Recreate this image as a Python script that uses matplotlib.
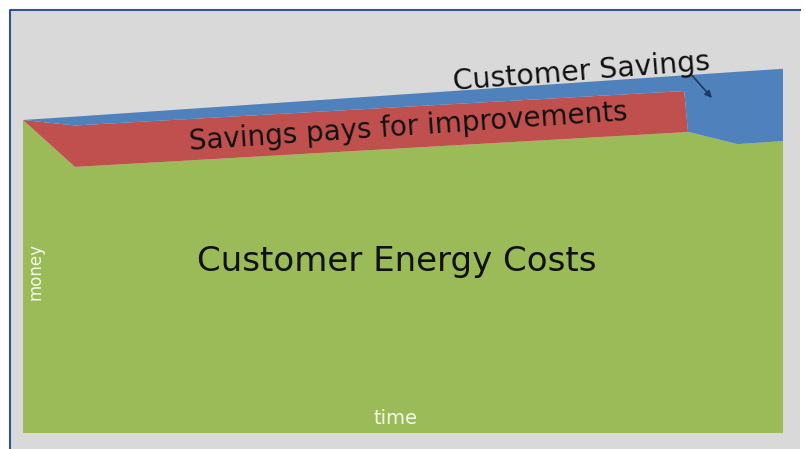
import numpy as np
import matplotlib
matplotlib.use('Agg')
import matplotlib.pyplot as plt
from matplotlib.patches import Rectangle
from matplotlib.lines import Line2D

# ============ data (arbitrary units) ============
time = [0, 1.37, 17.4, 17.5, 18.8, 20]
energy_costs = [74.0, 62.9, 71.1, 71.2, 68.3, 69.0]
improvement_pay = [0.0, 9.8, 9.75, 0.0, 0.0, 0.0]
customer_savings = [0.0, 2.1, 3.7, 13.4, 17.1, 17.1]

GREEN = '#9bbb59'
RED = '#c0504d'
BLUE = '#4f81bd'
GRAY = '#d9d9d9'

W, H = 806, 449
fig = plt.figure(figsize=(W / 100, H / 100), dpi=100)
fig.patch.set_facecolor('white')

# slide background + border
fig.patches.append(Rectangle((10 / W, 0), 790 / W, 439 / H, transform=fig.transFigure,
                             facecolor=GRAY, edgecolor='none', zorder=-2))
fig.lines.append(Line2D([10 / W, 10 / W, 800 / W], [0, 439 / H, 439 / H],
                        transform=fig.transFigure, color='#2f5496', lw=1.5, zorder=-1))

ax = fig.add_axes([23 / W, 16 / H, 760 / W, 423 / H])
ax.set_zorder(1)
ax.set_facecolor('none')
ax.stackplot(time, energy_costs, improvement_pay, customer_savings,
             colors=[GREEN, RED, BLUE], linewidth=0)
ax.set_xlim(0, 20)
ax.set_ylim(0, 100)
ax.axis('off')

ax.text(9.84, 40.6, 'Customer Energy Costs', fontsize=24.5, ha='center', va='center',
        color='#111111')
ax.text(10.13, 72.4, 'Savings pays for improvements', fontsize=20, ha='center',
        va='center', rotation=3.9, color='#111111')
ax.text(14.71, 85.3, 'Customer Savings', fontsize=20.4, ha='center', va='center',
        rotation=4.5, color='#111111')
ax.annotate('', xy=(18.13, 79.2), xytext=(17.6, 84.6),
            arrowprops=dict(arrowstyle='-|>', color='#1f3864', lw=1.2,
                            mutation_scale=10, shrinkA=0, shrinkB=0))
ax.text(9.79, 3.5, 'time', fontsize=14, ha='center', va='center', color='#f4f9ec')
ax.text(0.32, 38.1, 'money', fontsize=12, ha='center', va='center', rotation=90,
        color='#f4f9ec')

fig.savefig('out.png', dpi=100)
